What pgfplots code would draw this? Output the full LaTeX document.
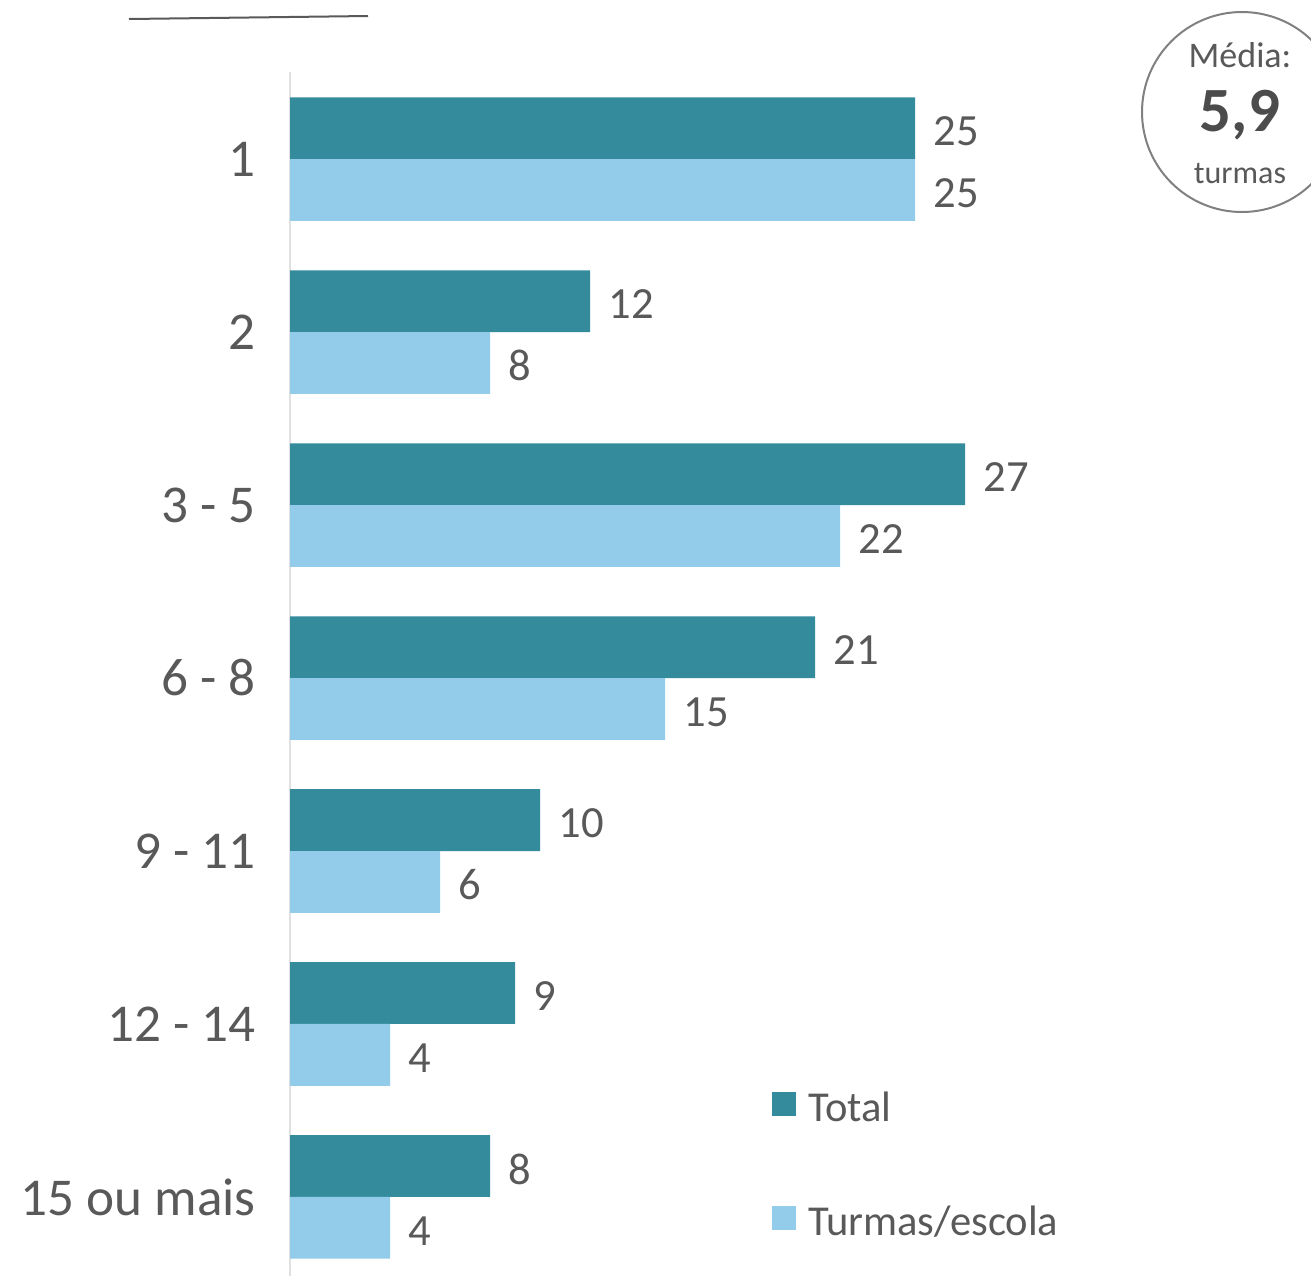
\documentclass[border=0pt]{standalone}
\usepackage{pgfplots}
\pgfplotsset{compat=1.18}
\usepackage{fontspec}
\setmainfont{Carlito}
\definecolor{teal1}{RGB}{51,139,156}
\definecolor{light1}{RGB}{147,204,234}
\definecolor{txt}{RGB}{89,89,89}
\begin{document}
\begin{tikzpicture}[x=0.5pt,y=-0.5pt]
\useasboundingbox (0,0) rectangle (1311,1276);
\coordinate (A) at (290,1276);
\draw[line width=1pt, color=black!65] (129,19) -- (368,16);
\draw[line width=1pt, color=black!50] (1242,112) circle (50pt);
\node[text=txt, font=\fontsize{18}{20}\selectfont] at (1240,55) {Média:};
\node[text=black!70, font=\bfseries\fontsize{31.5}{34}\selectfont] at (1240,115) {5,9};
\node[text=txt, font=\fontsize{16}{18}\selectfont] at (1240,173) {turmas};
\begin{axis}[
  at={(A)}, anchor=south west,
  scale only axis, width=375pt, height=602pt,
  xmin=0, xmax=30,
  y dir=reverse, ymin=-0.503, ymax=6.457,
  axis x line=none, axis y line*=left,
  y axis line style={draw=black!12, line width=1pt, -},
  ytick={0,1,2,3,4,5,6},
  yticklabels={1,2,3 - 5,6 - 8,9 - 11,12 - 14,15 ou mais},
  major tick length=0pt,
  yticklabel style={font=\fontsize{26.6}{28}\selectfont, text=txt, anchor=east, inner sep=0pt, xshift=-17pt},
  /pgf/number format/assume math mode=true,
  xbar, bar width=0.357, bar shift=0pt,
  nodes near coords,
  every node near coord/.append style={font=\fontsize{22.3}{24}\selectfont, text=txt, anchor=west, inner sep=0pt, xshift=9pt, yshift=-1.5pt},
  legend style={draw=none, fill=none, at={(0.6427,0.153)}, anchor=north west, inner sep=0pt, outer sep=0pt, row sep=39.5pt, column sep=6pt, font=\fontsize{21.3}{23}\selectfont, text=txt, nodes={inner sep=0pt, text height=0.75em, text depth=0.25em}},
  legend cell align=left,
  legend image code/.code={\fill[#1] (0pt,0.5pt) rectangle (12pt,12.5pt);},
]
\addplot[fill=teal1, draw=none] coordinates {(25,-0.1785) (12,0.8215) (27,1.8215) (21,2.8215) (10,3.8215) (9,4.8215) (8,5.8215)};
\addlegendentry{Total}
\addplot[fill=light1, draw=none] coordinates {(25,0.1785) (8,1.1785) (22,2.1785) (15,3.1785) (6,4.1785) (4,5.1785) (4,6.1785)};
\addlegendentry{Turmas/escola}
\end{axis}
\end{tikzpicture}
\end{document}
